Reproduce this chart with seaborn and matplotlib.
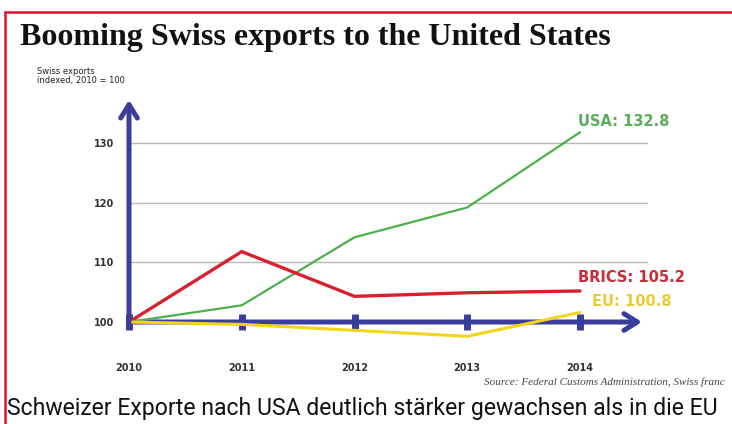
import matplotlib
matplotlib.use("Agg")
import matplotlib.pyplot as plt
import seaborn as sns
import pandas as pd
from matplotlib.lines import Line2D

years = [2010, 2011, 2012, 2013, 2014]
usa = [100, 102.8, 114.2, 119.2, 131.8]
brics = [100, 111.8, 104.3, 104.9, 105.2]
eu = [100, 99.6, 98.6, 97.6, 101.6]
series_names = ["USA", "BRICS", "EU"]
end_labels = ["USA: 132.8", "BRICS: 105.2", "EU: 100.8"]
yticks = [100, 110, 120, 130]

colors = {"USA": "#4cb04c", "BRICS": "#d8202e", "EU": "#f2d41a"}
widths = {"USA": 1.6, "BRICS": 2.4, "EU": 2.2}
label_colors = {"USA": "#5aae5a", "BRICS": "#cc2a36", "EU": "#e8cc30"}
blue = "#3a3d9c"

df = pd.DataFrame({"year": years * 3,
                   "value": usa + brics + eu,
                   "series": [s for s in series_names for _ in years]})

sns.set_theme(style="white")
plt.rcParams['font.family'] = ['DejaVu Sans']

W, H = 732, 424
fig = plt.figure(figsize=(W / 100, H / 100), dpi=100)

# pixel geometry
x0px, x4px, xr = 129, 580, 648
y100, y130 = 322, 143
ppu = (y100 - y130) / 30.0
ax_bot_px, ax_top_px = 345, 100
ax = fig.add_axes([x0px / W, 1 - ax_bot_px / H, (xr - x0px) / W, (ax_bot_px - ax_top_px) / H])
xmax = 2010 + 4 * (xr - x0px) / (x4px - x0px)
ymin = 100 - (ax_bot_px - y100) / ppu
ymax = 100 + (y100 - ax_top_px) / ppu
ax.set_xlim(2010, xmax)
ax.set_ylim(ymin, ymax)

for yv in yticks[1:]:
    ax.axhline(yv, color="#b8b8b8", lw=1.0, zorder=1)

sns.lineplot(data=df, x="year", y="value", hue="series", palette=colors,
             linewidth=2.0, ax=ax, legend=False, zorder=3)
for l, name in zip(ax.get_lines()[-3:], series_names):
    l.set_clip_on(False)
    l.set_linewidth(widths[name])

for sp in ax.spines.values():
    sp.set_visible(False)
ax.spines['bottom'].set_position(('data', 100))

# axes arrows
astyle = "->,head_length=0.8,head_width=0.5"
ax.annotate("", xy=(2010, ymax), xytext=(2010, 100),
            arrowprops=dict(arrowstyle=astyle, lw=3.6, color=blue,
                            shrinkA=0, shrinkB=0), annotation_clip=False, zorder=4)
ax.annotate("", xy=(2010 + 4 * (642 - x0px) / (x4px - x0px), 100), xytext=(2010, 100),
            arrowprops=dict(arrowstyle=astyle, lw=3.6, color=blue,
                            shrinkA=0, shrinkB=0), annotation_clip=False, zorder=2)

ax.set_xticks(years)
ax.set_xticklabels([str(y) for y in years])
ax.tick_params(axis='x', direction='inout', length=11, width=5, color=blue,
               pad=24, labelsize=7, labelcolor="#333333", bottom=True)
ax.set_yticks(yticks)
ax.set_yticklabels([str(v) for v in yticks])
ax.tick_params(axis='y', length=0, pad=11, labelsize=7, labelcolor="#333333")
for t in ax.get_xticklabels() + ax.get_yticklabels():
    t.set_fontweight("bold")
ax.set_xlabel("")
ax.set_ylabel("")
ax.grid(False)

# end labels
lab_pos = {"USA": (578, 122), "BRICS": (578, 278), "EU": (592, 301)}
for name, txt in zip(series_names, end_labels):
    px, py = lab_pos[name]
    fig.text(px / W, 1 - py / H, txt, color=label_colors[name], fontsize=10.5,
             fontweight="bold", ha="left", va="center")

# title and subtitle
fig.text(20 / W, 1 - 38 / H, "Booming Swiss exports to the United States",
         family="Liberation Serif", fontweight="bold", fontsize=23, color="#111111",
         ha="left", va="center")
fig.text(37 / W, 1 - 76 / H, "Swiss exports\nindexed, 2010 = 100", fontsize=6,
         color="#222222", ha="left", va="center", linespacing=1.1)

fig.text(725 / W, 1 - 382 / H, "Source: Federal Customs Administration, Swiss franc",
         family="Liberation Serif", style="italic", fontsize=8, color="#444444",
         ha="right", va="center")

fig.text(7 / W, 1 - 409 / H,
         "Schweizer Exporte nach USA deutlich stärker gewachsen als in die EU",
         family="Roboto", fontsize=16.6, color="#111111", ha="left", va="center")

# red border (top and left)
fig.add_artist(Line2D([5 / W, 1], [1 - 12 / H, 1 - 12 / H], color="#e0102a", lw=1.8,
                      transform=fig.transFigure))
fig.add_artist(Line2D([5 / W, 5 / W], [0, 1 - 12 / H], color="#e0102a", lw=1.8,
                      transform=fig.transFigure))

fig.savefig("out.png", dpi=100)
